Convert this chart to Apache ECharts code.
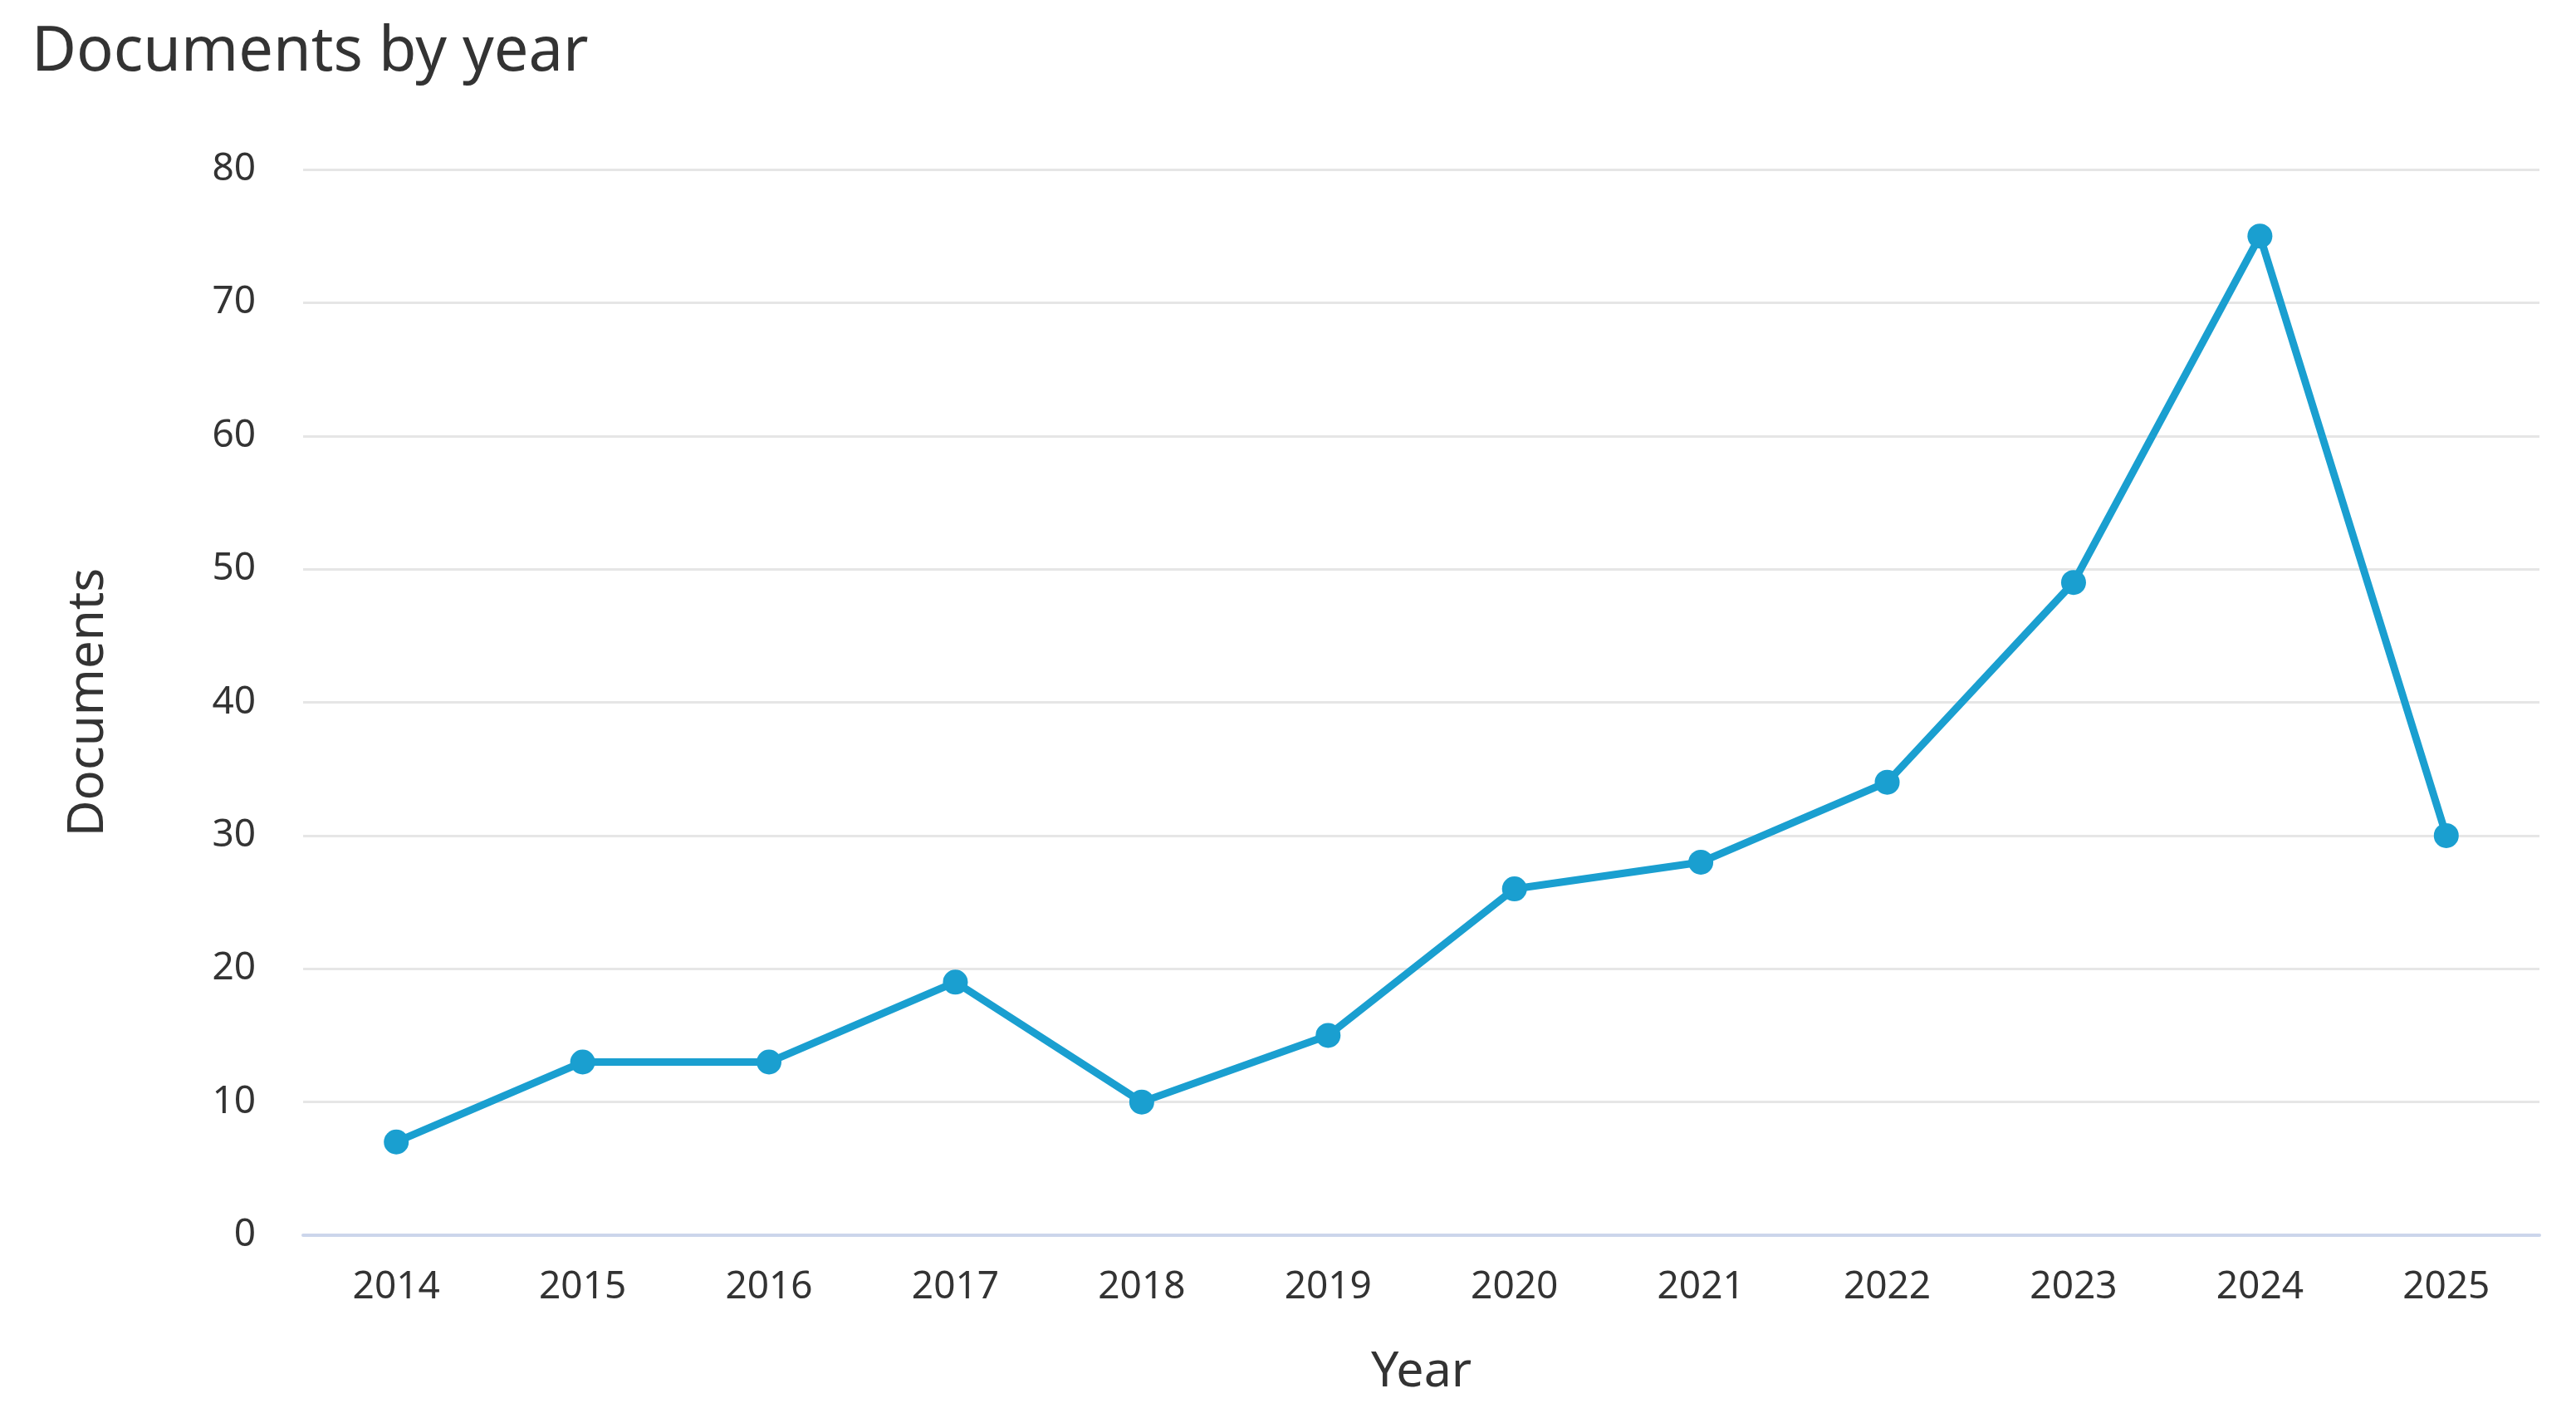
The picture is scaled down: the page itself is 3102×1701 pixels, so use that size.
<!DOCTYPE html>
<html>
<head>
<meta charset="utf-8">
<script src="https://cdn.jsdelivr.net/npm/echarts@6/dist/echarts.min.js"></script>
<style>
html,body{margin:0;padding:0;background:#fff;}
#chart{width:3102px;height:1701px;}
</style>
</head>
<body>
<div id="chart"></div>
<script>
const years = ['2014','2015','2016','2017','2018','2019','2020','2021','2022','2023','2024','2025'];
const documents = [7, 13, 13, 19, 10, 15, 26, 28, 34, 49, 75, 30];
const yTicks = { min: 0, max: 80, interval: 10 };

const FONT = '"Noto Sans", sans-serif';
const chart = echarts.init(document.getElementById('chart'));
chart.setOption({
  backgroundColor: '#ffffff',
  animation: false,
  title: {
    text: 'Documents by year',
    left: 33,
    top: 22,
    textStyle: { fontFamily: FONT, fontSize: 74, fontWeight: 'normal', color: '#333333' }
  },
  grid: { left: 365, right: 44, top: 204, bottom: 214, containLabel: false },
  xAxis: {
    type: 'category',
    data: years,
    boundaryGap: true,
    name: 'Year',
    nameLocation: 'middle',
    nameGap: 136,
    nameTextStyle: { fontFamily: FONT, fontSize: 59, color: '#333333' },
    axisLine: { show: true, lineStyle: { color: '#ccd6eb', width: 4 } },
    axisTick: { show: false },
    axisLabel: { fontFamily: FONT, fontSize: 46, color: '#333333', margin: 40 },
    splitLine: { show: false }
  },
  yAxis: {
    type: 'value',
    min: yTicks.min,
    max: yTicks.max,
    interval: yTicks.interval,
    name: 'Documents',
    nameLocation: 'middle',
    nameGap: 228,
    nameTextStyle: { fontFamily: FONT, fontSize: 60, color: '#333333' },
    axisLine: { show: false },
    axisTick: { show: false },
    axisLabel: { fontFamily: FONT, fontSize: 46, color: '#333333', margin: 57 },
    splitLine: { show: true, lineStyle: { color: '#e6e6e6', width: 3 } }
  },
  series: [{
    type: 'line',
    data: documents,
    symbol: 'circle',
    symbolSize: 30,
    showSymbol: true,
    lineStyle: { color: '#1a9fd0', width: 9 },
    itemStyle: { color: '#1a9fd0' },
    z: 5
  }]
});
</script>
</body>
</html>
